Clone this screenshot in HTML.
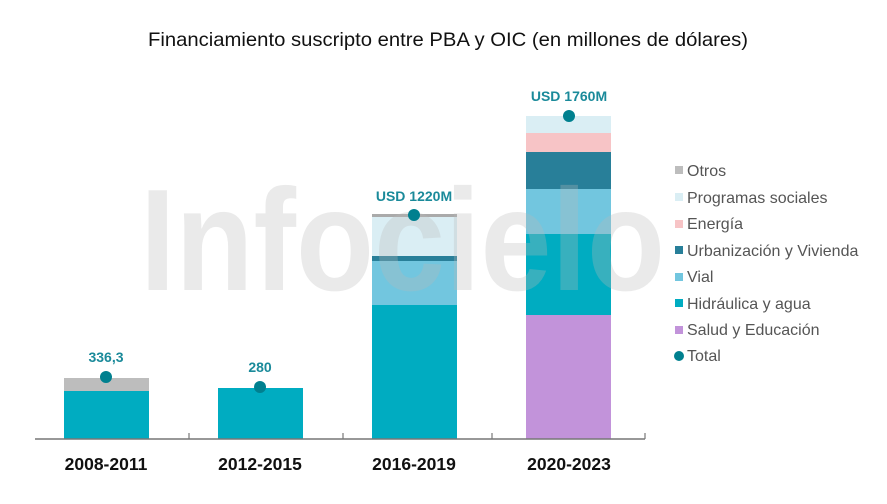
<!DOCTYPE html>
<html><head><meta charset="utf-8"><style>
body{margin:0;background:#fff;}
</style></head><body>
<svg width="887" height="499" xmlns="http://www.w3.org/2000/svg" font-family="Liberation Sans, Arial, sans-serif">
<rect width="887" height="499" fill="#fff"/>
<text x="448" y="46" text-anchor="middle" font-size="19.5" fill="#111" textLength="600" lengthAdjust="spacingAndGlyphs">Financiamiento suscripto entre PBA y OIC (en millones de dólares)</text>
<!-- bars -->
<rect x="64" y="378" width="85" height="13" fill="#bdbdbd"/>
<rect x="64" y="391" width="85" height="48" fill="#00acc1"/>
<rect x="218" y="388" width="85" height="51" fill="#00acc1"/>
<rect x="372" y="214" width="85" height="3" fill="#aaaaaa"/>
<rect x="372" y="217" width="85" height="39" fill="#daeef4"/>
<rect x="372" y="256" width="85" height="5" fill="#287f99"/>
<rect x="372" y="261" width="85" height="44" fill="#72c6df"/>
<rect x="372" y="305" width="85" height="134" fill="#00acc1"/>
<rect x="526" y="116" width="85" height="17" fill="#daeef4"/>
<rect x="526" y="133" width="85" height="19" fill="#f7c4c6"/>
<rect x="526" y="152" width="85" height="37" fill="#287f99"/>
<rect x="526" y="189" width="85" height="45" fill="#72c6df"/>
<rect x="526" y="234" width="85" height="81" fill="#00acc1"/>
<rect x="526" y="315" width="85" height="124" fill="#c293da"/>
<!-- watermark -->
<text x="140" y="290" font-size="145" font-weight="bold" fill="#b8b8b8" fill-opacity="0.3" textLength="525" lengthAdjust="spacingAndGlyphs">Infocielo</text>
<!-- axis -->
<line x1="35" y1="439" x2="645" y2="439" stroke="#777" stroke-width="1.5"/>
<g stroke="#777" stroke-width="1.2"><line x1="189" y1="439" x2="189" y2="433"/><line x1="343" y1="439" x2="343" y2="433"/><line x1="492" y1="439" x2="492" y2="433"/><line x1="645" y1="439" x2="645" y2="433"/></g>
<!-- dots & labels -->
<g fill="#00808f"><circle cx="106" cy="377" r="6"/><circle cx="260" cy="387" r="6"/><circle cx="414" cy="215" r="6"/><circle cx="569" cy="116" r="6"/></g>
<g fill="#1a8a9a" font-weight="bold" font-size="14" text-anchor="middle">
<text x="106" y="362">336,3</text><text x="260" y="372">280</text><text x="414" y="201">USD 1220M</text><text x="569" y="101">USD 1760M</text></g>
<g font-weight="bold" font-size="17.5" fill="#111" text-anchor="middle">
<text x="106" y="470">2008-2011</text><text x="260" y="470">2012-2015</text><text x="414" y="470">2016-2019</text><text x="569" y="470">2020-2023</text></g>
<!-- legend -->
<g font-size="16" fill="#555">
<rect x="675" y="166" width="8" height="8" fill="#bdbdbd"/><text x="687" y="176">Otros</text>
<rect x="675" y="193" width="8" height="8" fill="#daeef4"/><text x="687" y="203">Programas sociales</text>
<rect x="675" y="220" width="8" height="8" fill="#f7c4c6"/><text x="687" y="229">Energía</text>
<rect x="675" y="246" width="8" height="8" fill="#287f99"/><text x="687" y="256">Urbanización y Vivienda</text>
<rect x="675" y="273" width="8" height="8" fill="#72c6df"/><text x="687" y="282">Vial</text>
<rect x="675" y="299" width="8" height="8" fill="#00acc1"/><text x="687" y="309">Hidráulica y agua</text>
<rect x="675" y="326" width="8" height="8" fill="#c293da"/><text x="687" y="335">Salud y Educación</text>
<circle cx="679" cy="356" r="5" fill="#00808f"/><text x="687" y="361">Total</text>
</g>
</svg>
</body></html>
